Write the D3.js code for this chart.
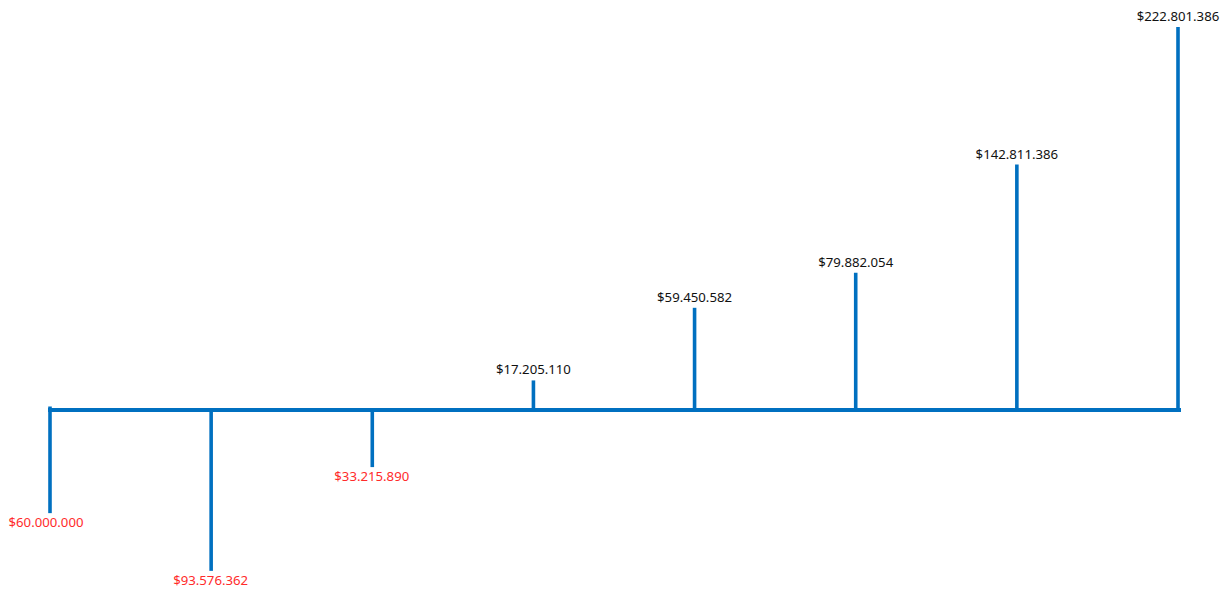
<!DOCTYPE html>
<html>
<head>
<meta charset="utf-8">
<script src="https://cdn.jsdelivr.net/npm/d3@7"></script>
<style>
  html, body { margin: 0; padding: 0; background: #ffffff; }
  svg { display: block; }
</style>
</head>
<body>
<svg id="chart" width="1222" height="600"></svg>
<script>
// Cash-flow periods and values
const periods = [0, 1, 2, 3, 4, 5, 6, 7];
const cashFlows = [-60000000, -93576362, -33215890, 17205110, 59450582, 79882054, 142811386, 222801386];

const W = 1222, H = 600;
const svg = d3.select("#chart");

const x = d3.scalePoint().domain(periods).range([50, 1178]);
const y = d3.scaleLinear().domain([0, 222801386]).range([410, 27]);

const loc = d3.formatLocale({ decimal: ",", thousands: ".", grouping: [3], currency: ["$", ""] });
const fmt = loc.format("$,.0f");

const blue = "#0070C0";
const data = periods.map((p, i) => ({ p, v: cashFlows[i] }));

// axis line
svg.append("line")
  .attr("x1", x(periods[0]) - 2).attr("x2", x(periods[periods.length - 1]) + 3)
  .attr("y1", y(0)).attr("y2", y(0))
  .attr("stroke", blue).attr("stroke-width", 4);

// stems
svg.selectAll("line.stem").data(data).enter().append("line")
  .attr("class", "stem")
  .attr("x1", d => x(d.p)).attr("x2", d => x(d.p))
  .attr("y1", d => d.p === 0 ? y(0) - 3.5 : y(0))
  .attr("y2", d => y(d.v))
  .attr("stroke", blue).attr("stroke-width", 3.6);

// labels
svg.selectAll("text.lbl").data(data).enter().append("text")
  .attr("class", "lbl")
  .attr("x", d => x(d.p) + (d.p === 0 ? -4 : (d.v < 0 ? -0.5 : 0)))
  .attr("y", d => d.v >= 0 ? y(d.v) - 6 : y(d.v) + 14)
  .attr("text-anchor", "middle")
  .attr("font-family", "'Noto Sans', sans-serif")
  .attr("font-size", 13.2)
  .attr("fill", d => d.v < 0 ? "#ff2b2b" : "#111111")
  .text(d => fmt(Math.abs(d.v)));
</script>
</body>
</html>
